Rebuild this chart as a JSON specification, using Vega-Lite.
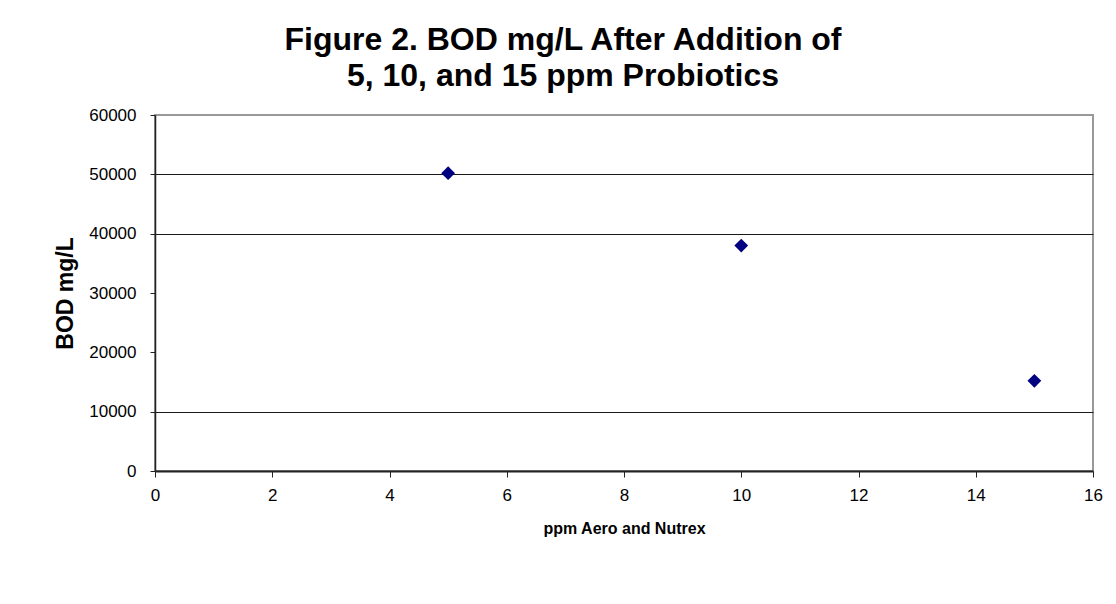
{
  "$schema": "https://vega.github.io/schema/vega-lite/v6.json",
  "autosize": "none",
  "width": 938,
  "height": 356,
  "padding": {"left": 155, "top": 115, "right": 23, "bottom": 133},
  "background": "white",
  "title": {
    "text": ["Figure 2. BOD mg/L After Addition of", "5, 10, and 15 ppm Probiotics"],
    "font": "Liberation Sans",
    "fontSize": 32,
    "fontWeight": "bold",
    "color": "black",
    "anchor": "middle",
    "dx": -61,
    "lineHeight": 36,
    "offset": 13
  },
  "data": {
    "values": [
      {"ppm": 5, "bod": 50200},
      {"ppm": 10, "bod": 38000},
      {"ppm": 15, "bod": 15200}
    ]
  },
  "mark": {"type": "point", "shape": "diamond", "filled": true, "color": "#000080", "size": 190, "opacity": 1},
  "encoding": {
    "x": {
      "field": "ppm",
      "type": "quantitative",
      "title": "ppm Aero and Nutrex",
      "scale": {"domain": [0, 16], "nice": false, "zero": false},
      "axis": {
        "values": [0, 2, 4, 6, 8, 10, 12, 14, 16],
        "grid": false,
        "domainColor": "#222222",
        "domainWidth": 2,
        "tickColor": "#222222",
        "tickSize": 6,
        "labelFont": "Liberation Sans",
        "labelFontSize": 17,
        "labelColor": "black",
        "labelPadding": 10,
        "labelFlush": false,
        "titleFont": "Liberation Sans",
        "titleFontSize": 16,
        "titleFontWeight": "bold",
        "titleColor": "black",
        "titlePadding": 17
      }
    },
    "y": {
      "field": "bod",
      "type": "quantitative",
      "title": "BOD mg/L",
      "scale": {"domain": [0, 60000], "nice": false},
      "axis": {
        "values": [0, 10000, 20000, 30000, 40000, 50000, 60000],
        "format": "d",
        "grid": true,
        "gridColor": "#1a1a1a",
        "gridWidth": 1.2,
        "gridOpacity": {"condition": {"test": "datum.value == 20000 || datum.value == 30000 || datum.value == 60000 || datum.value == 0", "value": 0}, "value": 1},
        "domainColor": "#222222",
        "domainWidth": 1.5,
        "tickColor": "#222222",
        "tickSize": 5,
        "labelFont": "Liberation Sans",
        "labelFontSize": 17,
        "labelColor": "black",
        "labelPadding": 14,
        "labelFlush": false,
        "titleFont": "Liberation Sans",
        "titleFontSize": 23,
        "titleFontWeight": "bold",
        "titleColor": "black",
        "titlePadding": 11
      }
    }
  },
  "config": {
    "view": {"stroke": "#999999", "strokeWidth": 2}
  }
}
